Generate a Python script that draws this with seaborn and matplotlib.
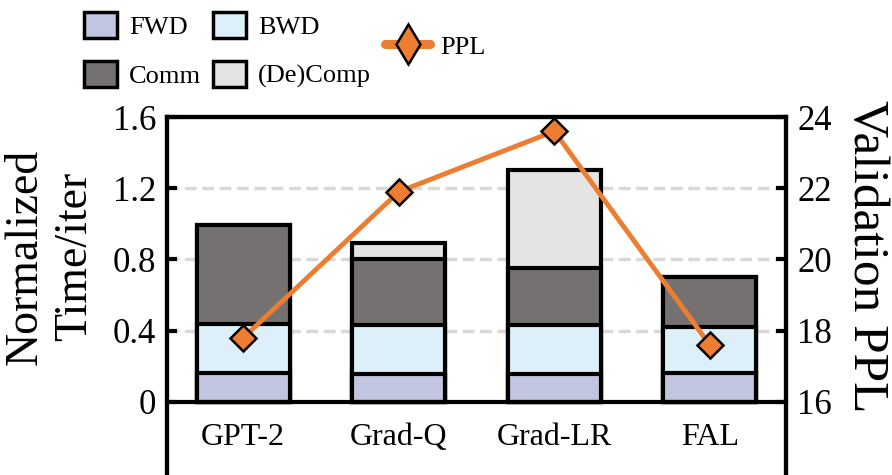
import numpy as np
import matplotlib
matplotlib.use('Agg')
import matplotlib.pyplot as plt
from matplotlib.patches import Patch
from matplotlib.lines import Line2D
import seaborn as sns

# data
methods = ['GPT-2', 'Grad-Q', 'Grad-LR', 'FAL']
fwd = [0.165, 0.155, 0.155, 0.165]
bwd = [0.275, 0.275, 0.275, 0.255]
comm = [0.555, 0.37, 0.32, 0.28]
decomp = [0.0, 0.09, 0.55, 0.0]
ppl = [17.8, 21.9, 23.6, 17.6]

colors = {'FWD': '#c2c5e0', 'BWD': '#ddf0f9', 'Comm': '#767171', '(De)Comp': '#e4e4e4'}
orange = '#ed7d31'

sns.set_style('white')
plt.rcParams['font.family'] = ['Liberation Serif', 'DejaVu Serif']
for key in ['text.color', 'axes.labelcolor', 'xtick.color', 'ytick.color']:
    plt.rcParams[key] = 'black'

fig = plt.figure(figsize=(8.92, 4.75), dpi=100)
ax = fig.add_axes([167 / 892, 0.0, 619 / 892, 1 - 117 / 475])

# cumulative heights, drawn from the top layer down
c1 = np.array(fwd)
c2 = c1 + np.array(bwd)
c3 = c2 + np.array(comm)
c4 = c3 + np.array(decomp)
for heights, name in [(c4, '(De)Comp'), (c3, 'Comm'), (c2, 'BWD'), (c1, 'FWD')]:
    sns.barplot(x=methods, y=heights, color=colors[name], saturation=1, width=0.6,
                edgecolor='black', linewidth=3, ax=ax, zorder=2)

ylo = -73 / 178
ax.set_ylim(ylo, 1.6)
ax.set_xlim(-0.49, 3.49)
ax.set_yticks([0, 0.4, 0.8, 1.2, 1.6])
ax.set_yticklabels(['0', '0.4', '0.8', '1.2', '1.6'])
ax.set_axisbelow(True)
for y in [0.4, 0.8, 1.2]:
    ax.axhline(y, color='#d9d9d9', lw=2.5, ls=(0, (3.4, 1.6)), zorder=0)
ax.spines['bottom'].set_position(('data', 0))
for s in ax.spines.values():
    s.set_linewidth(3)
    s.set_color('black')
ax.tick_params(axis='y', direction='in', length=7, width=3, labelsize=25, pad=8)
ax.tick_params(axis='x', length=0, labelsize=23, pad=15)
ax.set_xlabel('')
ax.set_ylabel('Normalized\nTime/iter', fontsize=33, ha='center', va='center')
ax.yaxis.set_label_coords(-0.189, 0.61)

ax2 = ax.twinx()
ax2.plot(np.arange(len(methods)), ppl, color=orange, lw=3.5, marker='D',
         markersize=13, markerfacecolor=orange, markeredgecolor='black',
         markeredgewidth=1.8, zorder=5)
ax2.set_ylim(16 + 5 * ylo, 24)
ax2.set_yticks([16, 18, 20, 22, 24])
ax2.spines['bottom'].set_visible(False)
for s in ax2.spines.values():
    s.set_linewidth(3)
    s.set_color('black')
ax2.tick_params(axis='y', direction='in', length=7, width=3, labelsize=25, pad=8)
ax2.set_ylabel('Validation PPL', fontsize=37, rotation=270, ha='center', va='center')
ax2.yaxis.set_label_coords(1.129, 0.61)

handles = [Patch(facecolor=colors[n], edgecolor='black', linewidth=2.5)
           for n in ['FWD', 'Comm', 'BWD', '(De)Comp']]
fig.legend(handles, ['FWD', 'Comm', 'BWD', '(De)Comp'], ncol=2, loc='upper left',
           bbox_to_anchor=(71 / 892, 1.002), frameon=False, fontsize=19,
           borderpad=0, handlelength=1.25, handleheight=1.1, handletextpad=0.45,
           columnspacing=0.45, labelspacing=0.85)
ppl_handle = Line2D([], [], color=orange, lw=6.5, marker='d', markersize=20,
                    markerfacecolor=orange, markeredgecolor='black', markeredgewidth=1.8)
fig.legend([ppl_handle], ['PPL'], loc='center left', bbox_to_anchor=(372 / 892, 1 - 47 / 475),
           frameon=False, fontsize=19, borderpad=0, handlelength=1.7, handletextpad=0.4)

fig.savefig('out.png', dpi=100)
